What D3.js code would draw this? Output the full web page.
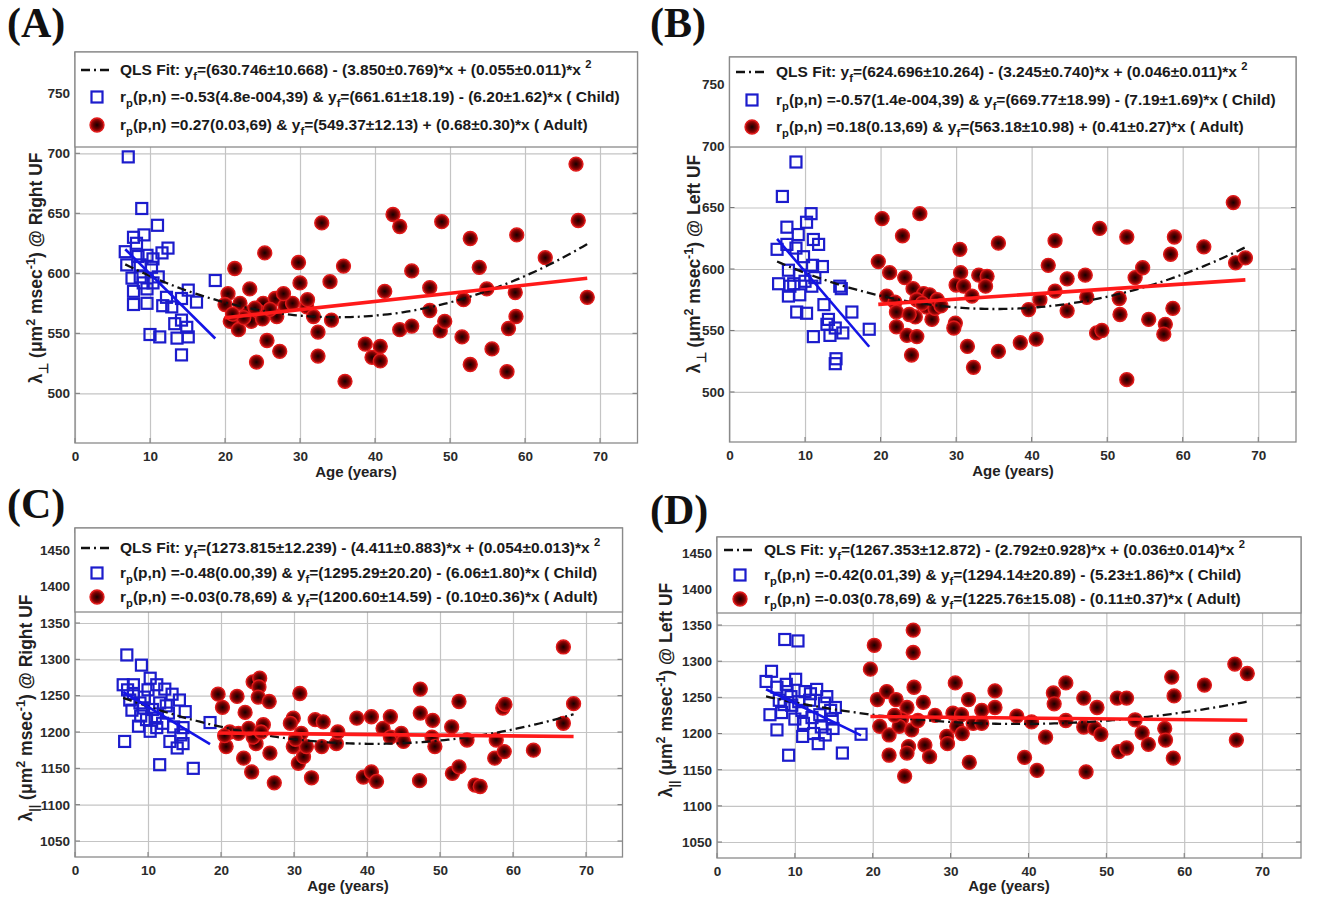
<!DOCTYPE html>
<html>
<head>
<meta charset="utf-8">
<script src="https://cdn.jsdelivr.net/npm/d3@7"></script>
<style>
  body { margin: 0; background: #fff; }
</style>
</head>
<body>
<div id="chart"></div>
<script>
// ---- data ----
// (A) radial diffusivity, right UF
let childAgeA = [7.1, 8.9, 11.0, 7.8, 9.2, 12.4, 6.7, 6.9, 8.4, 9.6, 10.4, 11.6, 8.7, 11.1, 18.7, 7.8, 9.6, 10.4, 15.1, 14.2, 16.2, 7.8, 9.6, 11.7, 12.9, 13.3, 14.2, 10.0, 11.3, 13.6, 15.1, 14.2, 8.2, 10.2, 9.1, 12.2, 7.6, 14.9, 8.7];
let childValA = [697, 654, 640, 630, 632, 621, 618, 607, 614, 615, 612, 617, 597, 597, 594, 585, 587, 592, 586, 579, 576, 574, 575, 573, 572, 558, 561, 549, 547, 546, 547, 532, 625, 605, 592, 580, 596, 555, 607];
let adultAgeA = [21.3, 20.4, 20.0, 22.0, 20.7, 21.8, 23.3, 23.1, 25.1, 25.3, 26.7, 24.4, 26.9, 25.6, 27.3, 24.2, 29.8, 30.0, 30.9, 31.8, 32.4, 32.4, 32.9, 34.0, 34.2,
  35.8, 36.0, 38.7, 39.6, 40.7, 40.7, 41.3, 42.4, 43.3, 43.3, 44.9, 44.9, 47.3, 47.3, 48.9, 48.7, 49.3, 51.6, 51.8, 52.7, 52.7, 53.9, 54.9, 55.6, 57.6, 57.8, 58.8, 58.7, 58.9, 62.7, 66.8, 67.1, 68.3,
  23.5, 24.5, 25.0, 24.0, 22.5, 26.0, 28.0, 21.0, 29.0, 27.8, 31.0];
let adultValA = [604, 583, 574, 575, 560, 553, 587, 567, 575, 617, 579, 564, 564, 544, 535, 526, 609, 592, 572, 564, 551, 531, 642, 593, 561,
  606, 510, 541, 530, 539, 527, 585, 649, 639, 553, 556, 602, 588, 569, 643, 552, 560, 547, 578, 629, 524, 605, 587, 537, 518, 554, 564, 584, 632, 613, 691, 644, 580,
  560, 568, 562, 571, 563, 570, 573, 566, 575, 583, 578];

// (B) radial diffusivity, left UF
let childAgeB = [8.8, 7.0, 10.8, 7.6, 10.2, 9.1, 11.1, 11.8, 6.3, 7.6, 8.8, 11.0, 12.3, 7.8, 9.3, 6.5, 8.0, 10.9, 14.6, 7.8, 9.3, 8.9, 10.2, 12.5, 13.1, 16.2, 14.0, 13.3, 15.0, 18.5, 11.1, 14.1, 14.0, 9.8, 11.3, 8.5, 10.0, 12.9, 14.8];
let childValB = [687, 659, 645, 634, 638, 628, 624, 620, 616, 620, 617, 603, 602, 599, 595, 588, 586, 586, 586, 578, 579, 565, 564, 571, 559, 565, 552, 546, 548, 551, 545, 527, 523, 610, 593, 588, 590, 555, 584];
let adultAgeB = [20.2, 19.7, 21.2, 20.8, 21.9, 22.1, 22.1, 22.9, 23.2, 23.5, 24.1, 24.3, 24.8, 24.6, 25.2, 25.7, 26.5, 26.1, 26.8, 27.2, 24.8, 29.9, 29.7, 30.5, 30.6, 30.0, 31.0, 32.1, 31.5, 32.3, 33.0, 34.1, 33.9, 35.6, 35.6,
  38.5, 39.6, 40.6, 41.1, 42.2, 43.1, 43.1, 44.7, 44.7, 47.1, 47.3, 48.6, 49.3, 49.0, 51.6, 51.7, 52.6, 52.6, 53.7, 54.7, 55.5, 57.7, 57.5, 58.7, 58.4, 58.9, 62.8, 66.7, 67.0, 68.3,
  23.8, 25.5, 27.5, 28.0];
let adultValB = [641, 606, 597, 578, 573, 565, 553, 627, 593, 546, 530, 584, 545, 561, 645, 580, 579, 569, 559, 568, 575, 556, 552, 616, 597, 587, 586, 578, 537, 520, 595, 594, 586, 621, 533,
  540, 567, 543, 575, 603, 623, 582, 592, 566, 595, 577, 548, 550, 633, 576, 563, 626, 510, 593, 601, 559, 555, 547, 568, 612, 626, 618, 654, 605, 609,
  563, 572, 575, 570];

// (C) axial diffusivity, right UF
let childAgeC = [7.1, 9.1, 6.6, 8.0, 10.3, 11.2, 12.3, 8.0, 9.5, 14.3, 15.1, 7.8, 9.4, 11.0, 8.7, 9.8, 10.3, 11.2, 13.5, 14.8, 18.5, 6.8, 13.0, 14.8, 14.0, 11.6, 16.2, 8.9, 11.6, 12.8, 7.5, 10.6, 13.3, 9.0, 12.0, 7.2, 10.0, 14.5, 12.5];
let childValC = [1306, 1292, 1265, 1265, 1274, 1265, 1259, 1253, 1248, 1244, 1228, 1230, 1233, 1219, 1208, 1217, 1201, 1206, 1207, 1206, 1213, 1187, 1187, 1184, 1178, 1155, 1150, 1240, 1240, 1226, 1244, 1231, 1252, 1222, 1212, 1258, 1258, 1196, 1236];
let adultAgeC = [19.6, 20.2, 20.7, 21.2, 22.2, 22.4, 23.3, 23.1, 24.2, 24.4, 25.3, 25.2, 25.1, 24.8, 24.4, 25.8, 26.6, 26.7, 27.3, 30.8, 29.9, 29.9, 30.6, 31.3, 31.7, 32.4, 32.9, 34.0, 33.8, 31.0, 35.8,
  38.6, 39.5, 40.6, 40.6, 41.3, 42.2, 43.2, 43.2, 44.7, 45.0, 47.3, 47.3, 47.2, 49.0, 48.9, 49.3, 51.6, 51.7, 52.6, 52.6, 53.7, 54.8, 55.5, 57.7, 57.5, 58.8, 58.6, 62.8, 66.9, 66.9, 68.3,
  20.5, 23.8, 25.5, 29.5, 30.2, 36.0, 58.9];
let adultValC = [1252, 1234, 1180, 1200, 1249, 1198, 1227, 1164, 1145, 1269, 1274, 1262, 1248, 1184, 1193, 1210, 1242, 1171, 1130, 1253, 1219, 1180, 1157, 1166, 1180, 1137, 1217, 1214, 1180, 1198, 1184,
  1219, 1138, 1221, 1145, 1132, 1205, 1221, 1193, 1198, 1187, 1259, 1226, 1133, 1216, 1193, 1180, 1207, 1143, 1152, 1242, 1189, 1127, 1125, 1189, 1164, 1173, 1233, 1175, 1317, 1212, 1239,
  1195, 1205, 1200, 1212, 1190, 1200, 1238];

// (D) axial diffusivity, left UF
let childAgeD = [8.7, 10.4, 7.0, 6.3, 7.7, 8.9, 10.1, 11.3, 12.8, 14.1, 8.0, 9.5, 9.6, 11.9, 6.8, 8.3, 10.9, 14.6, 13.2, 7.7, 11.1, 14.9, 13.4, 11.0, 12.4, 13.9, 13.0, 18.5, 9.2, 16.1, 9.0, 12.0, 13.8, 10.5, 14.8, 12.2, 8.6, 15.2, 10.0];
let childValD = [1330, 1328, 1286, 1272, 1264, 1268, 1275, 1258, 1261, 1251, 1246, 1251, 1239, 1246, 1226, 1229, 1232, 1232, 1226, 1205, 1214, 1207, 1209, 1196, 1200, 1198, 1186, 1199, 1170, 1173, 1258, 1255, 1242, 1244, 1220, 1222, 1240, 1236, 1220];
let adultAgeD = [20.2, 19.7, 20.6, 21.8, 23.0, 20.9, 22.1, 22.1, 24.4, 23.7, 23.4, 25.0, 24.6, 24.4, 24.1, 25.2, 25.2, 25.3, 26.5, 26.7, 27.3, 29.5, 29.6, 30.6, 30.3, 30.8, 31.4, 32.3, 32.4, 32.9, 34.0, 34.0, 35.7, 35.7,
  38.5, 39.5, 40.4, 41.1, 42.2, 43.2, 43.3, 44.8, 44.8, 47.1, 47.1, 47.4, 48.8, 48.5, 49.3, 51.4, 52.6, 51.6, 52.6, 53.7, 54.6, 55.4, 57.5, 57.6, 58.6, 58.4, 58.7, 62.6, 66.5, 68.1, 66.7,
  22.8, 25.8, 28.0, 31.5];
let adultValD = [1322, 1289, 1247, 1258, 1247, 1210, 1198, 1170, 1236, 1220, 1210, 1205, 1182, 1173, 1141, 1343, 1312, 1264, 1243, 1184, 1168, 1196, 1186, 1270, 1228, 1210, 1226, 1247, 1160, 1214, 1232, 1214, 1259, 1236,
  1224, 1167, 1216, 1149, 1195, 1256, 1241, 1270, 1218, 1249, 1209, 1147, 1236, 1207, 1199, 1249, 1249, 1175, 1180, 1219, 1201, 1185, 1207, 1191, 1166, 1278, 1252, 1267, 1296, 1283, 1191,
  1225, 1218, 1225, 1200];

// fit coefficients printed in the legends: [c0, c1, c2]
let qlsFit = { A: [630.746, -3.850, 0.055], B: [624.696, -3.245, 0.046], C: [1273.815, -4.411, 0.054], D: [1267.353, -2.792, 0.036] };
let childFit = { A: [661.61, -6.20], B: [669.77, -7.19], C: [1295.29, -6.06], D: [1294.14, -5.23] };
let adultFit = { A: [549.37, 0.68], B: [563.18, 0.41], C: [1200.60, -0.10], D: [1225.76, -0.11] };

let xTicks = [0, 10, 20, 30, 40, 50, 60, 70];
let yTicksPerp = [500, 550, 600, 650, 700, 750];
let yTicksPar = [1050, 1100, 1150, 1200, 1250, 1300, 1350, 1400, 1450];

// legend text, [text, "n" | "sub" | "sup"]
let legendA = [
  [["QLS Fit: y", "n"], ["f", "sub"], ["=(630.746±10.668) - (3.850±0.769)*x + (0.055±0.011)*x ", "n"], ["2", "sup"]],
  [["r", "n"], ["p", "sub"], ["(p,n) =-0.53(4.8e-004,39) & y", "n"], ["f", "sub"], ["=(661.61±18.19) - (6.20±1.62)*x ( Child)", "n"]],
  [["r", "n"], ["p", "sub"], ["(p,n) =0.27(0.03,69) & y", "n"], ["f", "sub"], ["=(549.37±12.13) + (0.68±0.30)*x ( Adult)", "n"]]
];
let legendB = [
  [["QLS Fit: y", "n"], ["f", "sub"], ["=(624.696±10.264) - (3.245±0.740)*x + (0.046±0.011)*x ", "n"], ["2", "sup"]],
  [["r", "n"], ["p", "sub"], ["(p,n) =-0.57(1.4e-004,39) & y", "n"], ["f", "sub"], ["=(669.77±18.99) - (7.19±1.69)*x ( Child)", "n"]],
  [["r", "n"], ["p", "sub"], ["(p,n) =0.18(0.13,69) & y", "n"], ["f", "sub"], ["=(563.18±10.98) + (0.41±0.27)*x ( Adult)", "n"]]
];
let legendC = [
  [["QLS Fit: y", "n"], ["f", "sub"], ["=(1273.815±12.239) - (4.411±0.883)*x + (0.054±0.013)*x ", "n"], ["2", "sup"]],
  [["r", "n"], ["p", "sub"], ["(p,n) =-0.48(0.00,39) & y", "n"], ["f", "sub"], ["=(1295.29±20.20) - (6.06±1.80)*x ( Child)", "n"]],
  [["r", "n"], ["p", "sub"], ["(p,n) =-0.03(0.78,69) & y", "n"], ["f", "sub"], ["=(1200.60±14.59) - (0.10±0.36)*x ( Adult)", "n"]]
];
let legendD = [
  [["QLS Fit: y", "n"], ["f", "sub"], ["=(1267.353±12.872) - (2.792±0.928)*x + (0.036±0.014)*x ", "n"], ["2", "sup"]],
  [["r", "n"], ["p", "sub"], ["(p,n) =-0.42(0.01,39) & y", "n"], ["f", "sub"], ["=(1294.14±20.89) - (5.23±1.86)*x ( Child)", "n"]],
  [["r", "n"], ["p", "sub"], ["(p,n) =-0.03(0.78,69) & y", "n"], ["f", "sub"], ["=(1225.76±15.08) - (0.11±0.37)*x ( Adult)", "n"]]
];

let yLabelA = [["λ", "n"], ["⊥", "sub"], [" (μm", "n"], ["2", "sup"], [" msec", "n"], ["-1", "sup"], [") @ Right UF", "n"]];
let yLabelB = [["λ", "n"], ["⊥", "sub"], [" (μm", "n"], ["2", "sup"], [" msec", "n"], ["-1", "sup"], [") @ Left UF", "n"]];
let yLabelC = [["λ", "n"], ["||", "sub"], [" (μm", "n"], ["2", "sup"], [" msec", "n"], ["-1", "sup"], [") @ Right UF", "n"]];
let yLabelD = [["λ", "n"], ["||", "sub"], [" (μm", "n"], ["2", "sup"], [" msec", "n"], ["-1", "sup"], [") @ Left  UF", "n"]];

// ---- layout ----
let width = 1334, height = 899;
let sans = "'Liberation Sans', Arial, sans-serif";
let serif = "'Liberation Serif', 'Times New Roman', serif";

let panels = [
  { id: "A", tag: "(A)", tagX: 7, tagY: 37, x0: 75, x1: 637.5, y0: 52, y1: 443, ydom: [458.6, 784.4], yTicks: yTicksPerp,
    leg: [75, 52, 637.5, 147], rows: [70, 97, 125], symX: 97, textX: 120, yLab: [42, 268], xLab: [356, 477],
    childAge: childAgeA, childVal: childValA, adultAge: adultAgeA, adultVal: adultValA, legend: legendA, yLabel: yLabelA },
  { id: "B", tag: "(B)", tagX: 650, tagY: 37, x0: 729.5, x1: 1296, y0: 57, y1: 442, ydom: [459.3, 772.4], yTicks: yTicksPerp,
    leg: [729.5, 57, 1296, 147], rows: [72, 100, 127], symX: 752, textX: 776, yLab: [700, 264], xLab: [1013, 476],
    childAge: childAgeB, childVal: childValB, adultAge: adultAgeB, adultVal: adultValB, legend: legendB, yLabel: yLabelB },
  { id: "C", tag: "(C)", tagX: 7, tagY: 518, x0: 75, x1: 622.5, y0: 528, y1: 857, ydom: [1028, 1480.7], yTicks: yTicksPar,
    leg: [75, 528, 622.5, 612], rows: [548, 573, 597], symX: 97, textX: 120, yLab: [32, 708], xLab: [348, 891],
    childAge: childAgeC, childVal: childValC, adultAge: adultAgeC, adultVal: adultValC, legend: legendC, yLabel: yLabelC },
  { id: "D", tag: "(D)", tagX: 650, tagY: 524, x0: 717, x1: 1301, y0: 537, y1: 858, ydom: [1027.9, 1471.7], yTicks: yTicksPar,
    leg: [717, 537, 1301, 613], rows: [550, 575, 599], symX: 740, textX: 764, yLab: [672, 690], xLab: [1009, 891],
    childAge: childAgeD, childVal: childValD, adultAge: adultAgeD, adultVal: adultValD, legend: legendD, yLabel: yLabelD }
];

let svg = d3.select("#chart").append("svg")
  .attr("width", width)
  .attr("height", height)
  .style("font-family", sans);

let defs = svg.append("defs");
let grad = defs.append("radialGradient").attr("id", "redDot");
grad.append("stop").attr("offset", "0%").attr("stop-color", "#150000");
grad.append("stop").attr("offset", "55%").attr("stop-color", "#6a0000");
grad.append("stop").attr("offset", "100%").attr("stop-color", "#c41010");

// write text with sub/superscripts as tspans
function richText(sel, parts, size) {
  let cur = 0;
  parts.forEach(([t, k]) => {
    let off = k === "sub" ? size * 0.32 : k === "sup" ? -size * 0.42 : 0;
    let ts = sel.append("tspan").text(t).attr("dy", off - cur);
    if (k !== "n") ts.attr("font-size", size * 0.72);
    cur = off;
  });
}

function drawPanel(p) {
  let g = svg.append("g");
  let x = d3.scaleLinear().domain([0, 75]).range([p.x0, p.x1]);
  let y = d3.scaleLinear().domain(p.ydom).range([p.y1, p.y0]);

  // grid
  g.append("g")
    .attr("transform", `translate(0, ${p.y1})`)
    .call(d3.axisBottom(x).tickValues(xTicks).tickSize(-(p.y1 - p.y0)).tickFormat(""))
    .call(a => a.select(".domain").remove())
    .call(a => a.selectAll("line").attr("stroke", "#c4c4c4").attr("stroke-width", 1.2));
  g.append("g")
    .attr("transform", `translate(${p.x0}, 0)`)
    .call(d3.axisLeft(y).tickValues(p.yTicks).tickSize(-(p.x1 - p.x0)).tickFormat(""))
    .call(a => a.select(".domain").remove())
    .call(a => a.selectAll("line").attr("stroke", "#c4c4c4").attr("stroke-width", 1.2));

  // inside ticks on all four sides
  let tk = 5;
  g.selectAll(".tkx").data(xTicks).join("path")
    .attr("d", d => `M${x(d)},${p.y1}v${-tk}M${x(d)},${p.y0}v${tk}`)
    .attr("stroke", "#777").attr("stroke-width", 1);
  g.selectAll(".tky").data(p.yTicks).join("path")
    .attr("d", d => `M${p.x0},${y(d)}h${tk}M${p.x1},${y(d)}h${-tk}`)
    .attr("stroke", "#777").attr("stroke-width", 1);

  // box
  g.append("rect")
    .attr("x", p.x0).attr("y", p.y0)
    .attr("width", p.x1 - p.x0).attr("height", p.y1 - p.y0)
    .attr("fill", "none").attr("stroke", "#8a8a8a").attr("stroke-width", 1.3);

  // tick labels
  g.append("g")
    .attr("transform", `translate(0, ${p.y1})`)
    .call(d3.axisBottom(x).tickValues(xTicks).tickSize(0).tickPadding(8).tickFormat(d3.format("d")))
    .call(a => a.select(".domain").remove())
    .call(a => a.selectAll("text").attr("font-size", 13.5).attr("font-weight", "bold").attr("fill", "#2a2a2a")
      .attr("font-family", sans));
  g.append("g")
    .attr("transform", `translate(${p.x0}, 0)`)
    .call(d3.axisLeft(y).tickValues(p.yTicks).tickSize(0).tickPadding(5).tickFormat(d3.format("d")))
    .call(a => a.select(".domain").remove())
    .call(a => a.selectAll("text").attr("font-size", 13.5).attr("font-weight", "bold").attr("fill", "#2a2a2a")
      .attr("font-family", sans));

  // axis titles
  g.append("text")
    .attr("x", p.xLab[0]).attr("y", p.xLab[1])
    .attr("text-anchor", "middle")
    .attr("font-size", 15).attr("font-weight", "bold").attr("fill", "#222")
    .text("Age (years)");
  let yl = g.append("text")
    .attr("transform", `translate(${p.yLab[0]}, ${p.yLab[1]}) rotate(-90)`)
    .attr("text-anchor", "middle")
    .attr("font-size", 17.5).attr("font-weight", "bold").attr("fill", "#222");
  richText(yl, p.yLabel, 17.5);

  // panel tag
  svg.append("text")
    .attr("x", p.tagX).attr("y", p.tagY)
    .attr("font-family", serif)
    .attr("font-size", 42).attr("font-weight", "bold").attr("fill", "#111")
    .text(p.tag);

  // scatter: children as open squares, adults as dark red discs
  let s = 11;
  g.selectAll(".child").data(p.childAge).join("rect")
    .attr("x", (d, i) => x(d) - s / 2)
    .attr("y", (d, i) => y(p.childVal[i]) - s / 2)
    .attr("width", s).attr("height", s)
    .attr("fill", "none").attr("stroke", "#1c1ccc").attr("stroke-width", 2.2);
  g.selectAll(".adult").data(p.adultAge).join("circle")
    .attr("cx", (d, i) => x(d))
    .attr("cy", (d, i) => y(p.adultVal[i]))
    .attr("r", 7)
    .attr("fill", "url(#redDot)")
    .attr("stroke", "#e21a1a").attr("stroke-width", 1.3);

  // fits
  let q = qlsFit[p.id], c = childFit[p.id], a = adultFit[p.id];
  let allAge = p.childAge.concat(p.adultAge);
  let qx = d3.range(d3.min(allAge), d3.max(allAge), 0.5).concat([d3.max(allAge)]);
  let line = d3.line().x(d => x(d[0])).y(d => y(d[1]));

  g.append("path")
    .datum(qx.map(v => [v, q[0] + q[1] * v + q[2] * v * v]))
    .attr("d", line)
    .attr("fill", "none").attr("stroke", "#111").attr("stroke-width", 2.3)
    .attr("stroke-dasharray", "9,4,2,4");

  let cx = d3.extent(p.childAge);
  g.append("path")
    .datum(cx.map(v => [v, c[0] + c[1] * v]))
    .attr("d", line)
    .attr("fill", "none").attr("stroke", "#1414e6").attr("stroke-width", 2.6);

  let ax = d3.extent(p.adultAge);
  g.append("path")
    .datum(ax.map(v => [v, a[0] + a[1] * v]))
    .attr("d", line)
    .attr("fill", "none").attr("stroke", "#ff1a1a").attr("stroke-width", 3.6);

  // legend
  let lg = svg.append("g");
  lg.append("rect")
    .attr("x", p.leg[0]).attr("y", p.leg[1])
    .attr("width", p.leg[2] - p.leg[0]).attr("height", p.leg[3] - p.leg[1])
    .attr("fill", "#fff").attr("stroke", "#8a8a8a").attr("stroke-width", 1.3);
  lg.append("line")
    .attr("x1", p.symX - 16).attr("x2", p.symX + 14)
    .attr("y1", p.rows[0]).attr("y2", p.rows[0])
    .attr("stroke", "#111").attr("stroke-width", 2.3).attr("stroke-dasharray", "9,4,2,4");
  lg.append("rect")
    .attr("x", p.symX - s / 2).attr("y", p.rows[1] - s / 2)
    .attr("width", s).attr("height", s)
    .attr("fill", "none").attr("stroke", "#1c1ccc").attr("stroke-width", 2.2);
  lg.append("circle")
    .attr("cx", p.symX).attr("cy", p.rows[2]).attr("r", 7)
    .attr("fill", "url(#redDot)").attr("stroke", "#e21a1a").attr("stroke-width", 1.3);
  p.legend.forEach((parts, i) => {
    let t = lg.append("text")
      .attr("x", p.textX).attr("y", p.rows[i] + 5)
      .attr("font-size", 15.5).attr("font-weight", "bold").attr("fill", "#1a1a1a");
    richText(t, parts, 15.5);
  });
}

panels.forEach(drawPanel);
</script>
</body>
</html>
